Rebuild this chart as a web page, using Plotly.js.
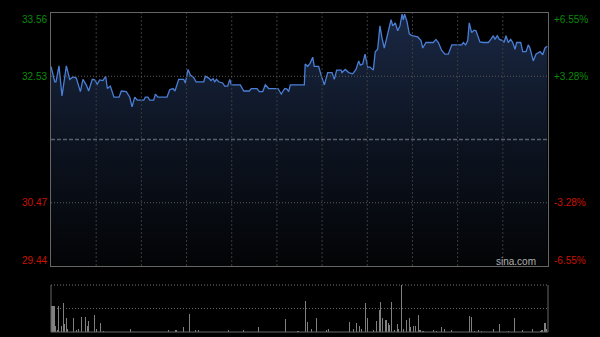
<!DOCTYPE html>
<html>
<head>
<meta charset="utf-8">
<script src="https://cdn.plot.ly/plotly-3.0.1.min.js"></script>
<style>html,body{margin:0;padding:0;background:#000;}#chart{width:600px;height:337px;}</style>
</head>
<body>
<div id="chart"></div>
<script>
// Intraday price (minutes since open, 0..330) and price
const priceTime = [0,2.5,3.3,5.3,7.3,10.2,12.4,14.6,16.8,19.5,21.2,23.4,25,27.4,29,30.7,32.3,34.5,36.3,37.4,39.4,41.8,45.2,46.7,50,52.3,53.8,55.6,57.3,61.6,62.6,64.4,65.5,68.2,69.3,71,77,78.8,81,82.3,84.8,88.1,89.2,91,92.5,94.7,96.3,101.4,102.5,104.7,106.2,107.6,108.7,109.8,111.3,114,115.3,117.3,118.7,119.7,125.7,128,131.7,133,136.8,138.3,140.6,142.3,144.5,150.7,152.9,155.2,156.7,157.8,158.9,168.2,168.8,170.4,172,173.8,174.8,177.7,179.3,181.5,183.7,186.6,188.1,189.7,192.6,193.2,195.4,197.7,200.3,202.5,204.3,205.4,207,208.5,210.3,211.8,214,215.3,216.9,218.4,219.8,221.3,222.9,225.8,226.9,228.6,230.2,231.7,233.1,233.9,234.8,236.4,237.9,239.7,243.5,245.7,246.8,249,253.8,255.6,257.2,259.4,261.6,263.8,266.1,272.7,273.8,275.3,276.7,277.7,279.3,280.9,282.2,284.8,287,290.4,292,293.7,294.8,296.3,297.7,299.9,300.8,302.1,303.6,305.2,306.6,308.1,309.2,311.9,313.2,315.4,316.9,318,320.2,322,324.7,326.5,328,329.5];
const priceValue = [32.69,32.44,32.44,32.70,32.21,32.70,32.48,32.52,32.50,32.28,32.48,32.39,32.29,32.48,32.47,32.40,32.47,32.46,32.53,32.33,32.37,32.19,32.19,32.29,32.28,32.19,32.03,32.19,32.14,32.14,32.19,32.19,32.14,32.14,32.24,32.19,32.19,32.31,32.33,32.29,32.48,32.48,32.42,32.64,32.55,32.51,32.44,32.44,32.53,32.50,32.46,32.49,32.44,32.48,32.44,32.42,32.37,32.37,32.48,32.39,32.39,32.29,32.29,32.33,32.33,32.28,32.28,32.39,32.33,32.33,32.24,32.33,32.32,32.28,32.39,32.39,32.73,32.69,32.74,32.84,32.69,32.69,32.55,32.39,32.59,32.59,32.48,32.63,32.63,32.59,32.64,32.59,32.57,32.64,32.78,32.71,32.73,32.89,32.68,32.68,32.63,32.93,32.97,33.35,33.15,32.99,33.15,33.45,33.35,33.40,33.27,33.35,33.54,33.45,33.54,33.42,33.22,33.19,33.17,33.11,32.99,33.08,33.08,33.13,33.08,32.95,32.89,32.89,33.04,33.04,33.08,33.04,33.11,33.40,33.24,33.28,33.27,33.09,33.08,33.08,33.13,33.19,33.13,33.19,33.13,33.11,33.08,33.19,33.08,33.13,33.08,32.97,33.08,33.08,32.93,32.93,33.04,32.99,32.78,32.89,32.93,32.88,32.99,33.02];

// Volume bars (minute, relative volume)
const volTime = [0,1,2,3,4,5,7,8,9,10,11,15,17,18,20,23,24,25,29,30,33,35,53,78,83,88,92,96,98,118,128,138,156,164,169,170,173,176,183,184,198,201,203,205,206,209,210,214,216,218,219,220,222,223,224,225,226,228,230,231,233,234,236,238,239,241,242,244,245,247,254,256,259,261,266,278,279,281,284,286,294,298,304,308,313,320,325,326,328,329];
const volValue = [55,55,55,12,5,55,12,61,16,29,6,29,4,6,32,31,12,24,37,6,20,3,7,4,5,11,39,4,4,4,4,11,27,3,66,21,6,29,4,6,21,7,19,13,6,62,29,4,23,46,63,29,25,25,20,15,63,4,18,7,100,6,25,29,10,13,13,36,4,3,4,3,11,6,4,34,31,2,4,3,6,16,2,29,5,7,3,4,19,7];

// Axis labels
const preClose = 31.50;
const gridPrices = [30.47, 32.53];
const leftLabels = ["33.56","32.53","30.47","29.44"];
const leftValues = [33.56,32.53,30.47,29.44];
const rightLabels = ["+6.55%","+3.28%","-3.28%","-6.55%"];
const labelColors = ["#0b8a0b","#0b8a0b","#cc1100","#cc1100"];
const labelShift = [-6,0,0,6];

const font = "Arial, 'Liberation Sans', sans-serif";

const traces = [
  {
    x: priceTime, y: priceValue, type: 'scatter', mode: 'lines',
    xaxis: 'x', yaxis: 'y',
    line: {color: '#4a7fd6', width: 1.3},
    fill: 'tozeroy',
    fillgradient: {type: 'vertical', start: 29.44, stop: 33.56,
      colorscale: [[0, 'rgb(3,4,6)'], [0.5, 'rgb(13,20,33)'], [1, 'rgb(26,40,68)']]},
    hoverinfo: 'skip'
  },
  {
    x: volTime, y: volValue, type: 'bar', xaxis: 'x2', yaxis: 'y2',
    width: 0.7,
    marker: {color: '#808080', line: {width: 0}},
    hoverinfo: 'skip'
  }
];

const annotations = [];
for (let i = 0; i < leftLabels.length; i++) {
  annotations.push({xref: 'paper', yref: 'y', x: 0, y: leftValues[i], xanchor: 'right', yanchor: 'middle',
    xshift: -2, yshift: labelShift[i], text: leftLabels[i], showarrow: false,
    font: {family: font, size: 10, color: labelColors[i]}});
  annotations.push({xref: 'paper', yref: 'y', x: 1, y: leftValues[i], xanchor: 'left', yanchor: 'middle',
    xshift: 4, yshift: labelShift[i], text: rightLabels[i], showarrow: false,
    font: {family: font, size: 10, color: labelColors[i]}});
}
annotations.push({xref: 'paper', yref: 'y', x: 1, y: 29.44, xanchor: 'right', yanchor: 'middle',
  xshift: -10, yshift: 5, text: 'sina.com', showarrow: false,
  font: {family: font, size: 10, color: '#b0b0b0'}});

const shapes = [];
// vertical grid every 30 minutes, drawn above the fill
for (let t = 30; t < 330; t += 30) {
  shapes.push({type: 'line', xref: 'x', yref: 'y domain', x0: t, x1: t, y0: 0, y1: 1, layer: 'above',
    line: {color: '#3c3c3c', width: 1, dash: '2px,2px'}});
}
gridPrices.forEach(p => shapes.push({type: 'line', xref: 'paper', yref: 'y', x0: 0, x1: 1, y0: p, y1: p,
  layer: 'above', line: {color: '#5a5a5a', width: 1, dash: '1px,2px'}}));
shapes.push(
  // pre-close line
  {type: 'line', xref: 'paper', yref: 'y', x0: 0, x1: 1, y0: preClose, y1: preClose, layer: 'above',
   line: {color: '#58606c', width: 1.5, dash: '4px,2px'}},
  // volume panel frame
  {type: 'line', xref: 'paper', yref: 'y2 domain', x0: 0, x1: 1, y0: 1, y1: 1,
   line: {color: '#777', width: 1, dash: '1px,2px'}},
  {type: 'line', xref: 'paper', yref: 'y2 domain', x0: 0, x1: 1, y0: 0, y1: 0,
   line: {color: '#666', width: 1}},
  {type: 'line', xref: 'paper', yref: 'y2 domain', x0: 0, x1: 0, y0: 0, y1: 1,
   line: {color: '#666', width: 1}},
  {type: 'line', xref: 'paper', yref: 'y2 domain', x0: 1, x1: 1, y0: 0, y1: 1,
   line: {color: '#666', width: 1}}
);

const layout = {
  width: 600, height: 337,
  paper_bgcolor: '#000', plot_bgcolor: '#000',
  margin: {l: 51, r: 52, t: 13, b: 5},
  showlegend: false, hovermode: false,
  xaxis: {domain: [0, 1], range: [0, 330], showgrid: false, zeroline: false,
    showticklabels: false, ticks: '', showline: true, mirror: true, linecolor: '#666', linewidth: 1,
    anchor: 'y', fixedrange: true},
  yaxis: {domain: [0.2069, 1], range: [29.44, 33.56], showgrid: false, zeroline: false,
    showticklabels: false, ticks: '', showline: true, mirror: true, linecolor: '#666', linewidth: 1,
    anchor: 'x', fixedrange: true},
  xaxis2: {domain: [0, 1], range: [0, 330], showgrid: false, zeroline: false,
    showticklabels: false, ticks: '', anchor: 'y2', fixedrange: true},
  yaxis2: {domain: [0, 0.1473], range: [0, 100], tickvals: [50], showgrid: true,
    gridcolor: '#666', griddash: '1px,2px', zeroline: false, showticklabels: false, ticks: '',
    anchor: 'x2', fixedrange: true},
  annotations: annotations,
  shapes: shapes,
  bargap: 0
};

Plotly.newPlot('chart', traces, layout, {staticPlot: true, displayModeBar: false});
</script>
</body>
</html>
